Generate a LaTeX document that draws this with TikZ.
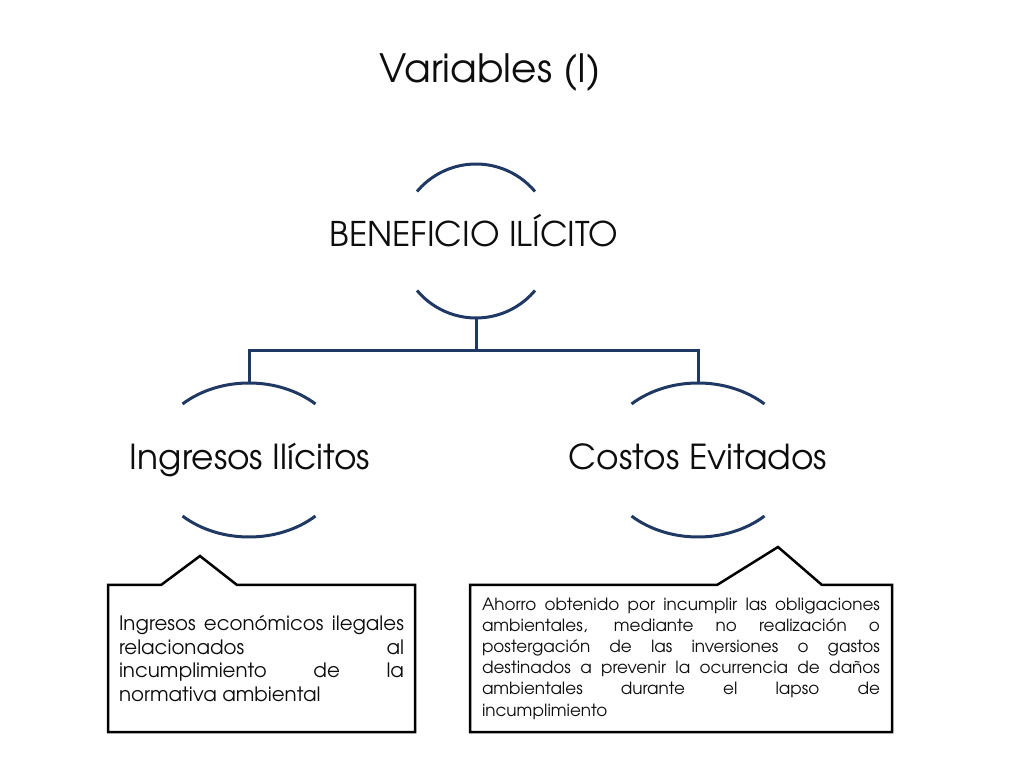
\documentclass[tikz,border=0pt]{standalone}
\usepackage{fontspec}
\setmainfont{texgyreadventor-regular.otf}
\usetikzlibrary{shapes.geometric}
\definecolor{navy}{RGB}{31,56,100}
\definecolor{ink}{RGB}{13,13,13}
\newcommand\jline[2]{\makebox[#1][s]{#2}}
\begin{document}
\begin{tikzpicture}[x=1pt,y=1pt,
  arcline/.style={draw=navy, line width=3pt},
  conn/.style={draw=navy, line width=3pt},
  bubble/.style={draw=black, line width=2.5pt, line join=miter},
  nodeshape/.style={ellipse, inner sep=0, outer sep=0},
  lbl/.style={text=ink, inner sep=0, outer sep=0},
]
\useasboundingbox (0,0) rectangle (1024,768);
% title
\node[lbl, anchor=base, font=\fontsize{39}{41}\selectfont] (title) at (490,685) {Variables (I)};
% invisible node outlines
\node[nodeshape, minimum width=154, minimum height=154] (top) at (476,527) {};
\node[nodeshape, minimum width=194, minimum height=154] (left) at (249,308) {};
\node[nodeshape, minimum width=194, minimum height=154] (right) at (698,308) {};
% labels
\node[lbl, anchor=base, font=\fontsize{34}{36}\selectfont] (topt) at (474,521) {BENEFICIO ILÍCITO};
\node[lbl, anchor=base, font=\fontsize{34.4}{36}\selectfont] (leftt) at (250,298) {Ingresos Ilícitos};
\node[lbl, anchor=base, font=\fontsize{34.4}{36}\selectfont] (rightt) at (698,298) {Costos Evitados};
% arcs
\draw[arcline] ([shift={(top.center)}]40:77) arc[start angle=40, end angle=140, radius=77];
\draw[arcline] ([shift={(top.center)}]220:77) arc[start angle=220, end angle=320, radius=77];
\foreach \n in {left,right}{
  \draw[arcline] ([shift={(\n.center)}]46.7:96.9 and 77) arc[start angle=46.7, end angle=133.3, x radius=96.9, y radius=77];
  \draw[arcline] ([shift={(\n.center)}]226.7:96.9 and 77) arc[start angle=226.7, end angle=313.3, x radius=96.9, y radius=77];
}
% connectors
\coordinate (bus) at (476,417);
\draw[conn] (top.south) -- (bus);
\draw[conn] (bus) -| (left.north);
\draw[conn] (bus) -| (right.north);
% callouts
\node[minimum width=307, minimum height=147, inner sep=0, outer sep=0] (lnote) at (261.5,109.5) {};
\draw[bubble] (lnote.north west) -- ([xshift=53]lnote.north west) -- ([xshift=92,yshift=29]lnote.north west) -- ([xshift=129]lnote.north west) -- (lnote.north east) -- (lnote.south east) -- (lnote.south west) -- cycle;
\node[minimum width=422, minimum height=147, inner sep=0, outer sep=0] (rnote) at (681,109.5) {};
\draw[bubble] (rnote.north west) -- ([xshift=247]rnote.north west) -- ([xshift=308,yshift=38]rnote.north west) -- ([xshift=352]rnote.north west) -- (rnote.north east) -- (rnote.south east) -- (rnote.south west) -- cycle;
\node[lbl, align=left, font=\fontsize{19.8}{23.5}\selectfont] (ltext) at (lnote) {%
\jline{285pt}{Ingresos económicos ilegales}\\
\jline{285pt}{relacionados al}\\
\jline{285pt}{incumplimiento de la}\\
normativa ambiental};
\node[lbl, align=left, font=\fontsize{16.8}{21.2}\selectfont] (rtext) at (rnote) {%
\jline{398pt}{Ahorro obtenido por incumplir las obligaciones}\\
\jline{398pt}{ambientales, mediante no realización o}\\
\jline{398pt}{postergación de las inversiones o gastos}\\
\jline{398pt}{destinados a prevenir la ocurrencia de daños}\\
\jline{398pt}{ambientales durante el lapso de}\\
incumplimiento};
\end{tikzpicture}
\end{document}
